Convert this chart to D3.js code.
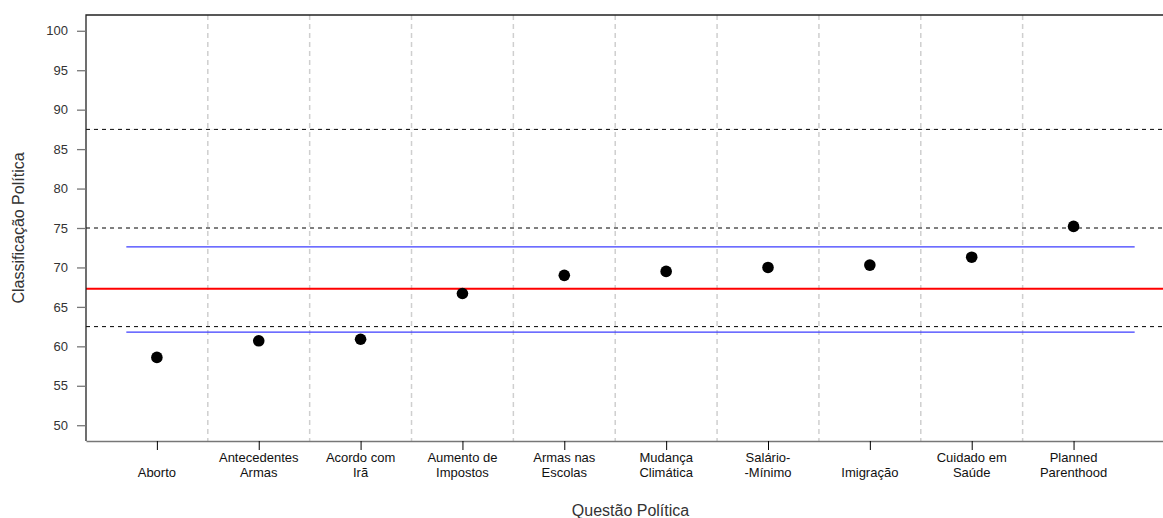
<!DOCTYPE html>
<html>
<head>
<meta charset="utf-8">
<script src="https://cdn.jsdelivr.net/npm/d3@7"></script>
<style>
  body { margin: 0; background: #fff; }
  svg { display: block; font-family: "Liberation Sans", Arial, sans-serif; }
</style>
</head>
<body>
<div id="chart"></div>
<script>
// questions (two-line labels, first line may be empty)
const questions = [
  ["", "Aborto"],
  ["Antecedentes", "Armas"],
  ["Acordo com", "Irã"],
  ["Aumento de", "Impostos"],
  ["Armas nas", "Escolas"],
  ["Mudança", "Climática"],
  ["Salário-", "-Mínimo"],
  ["", "Imigração"],
  ["Cuidado em", "Saúde"],
  ["Planned", "Parenthood"]
];
const ratings = [58.6, 60.7, 60.9, 66.7, 69.0, 69.5, 70.0, 70.3, 71.3, 75.2];
const meanLine = 67.3;
const blueLines = [72.6, 61.8];
const blueSpan = [0.7, 10.6];
const dashedLines = [87.5, 75, 62.5];
const separators = [1.5, 2.5, 3.5, 4.5, 5.5, 6.5, 7.5, 8.5, 9.5];
const yTicks = [50, 55, 60, 65, 70, 75, 80, 85, 90, 95, 100];

const W = 1163, H = 518;
const pLeft = 86, pRight = 1175, pTop = 15, pBottom = 441;

const svg = d3.select("#chart").append("svg")
  .attr("width", W).attr("height", H);

const x = d3.scaleLinear().domain([0.304, 10.996]).range([pLeft, pRight]);
const y = d3.scaleLinear().domain([48, 102]).range([pBottom, pTop]);

// grey separators
svg.append("g").selectAll("line").data(separators).join("line")
  .attr("x1", d => x(d)).attr("x2", d => x(d))
  .attr("y1", pTop).attr("y2", pBottom)
  .attr("stroke", "#cfcfcf").attr("stroke-width", 1.5)
  .attr("stroke-dasharray", "5,4");

// black dashed reference lines
svg.append("g").selectAll("line").data(dashedLines).join("line")
  .attr("x1", pLeft).attr("x2", pRight)
  .attr("y1", d => y(d)).attr("y2", d => y(d))
  .attr("stroke", "#000").attr("stroke-width", 1)
  .attr("stroke-dasharray", "4,4");

// blue segments
svg.append("g").selectAll("line").data(blueLines).join("line")
  .attr("x1", x(blueSpan[0])).attr("x2", x(blueSpan[1]))
  .attr("y1", d => y(d)).attr("y2", d => y(d))
  .attr("stroke", "#3d3dff").attr("stroke-width", 1.2);

// red mean
svg.append("line")
  .attr("x1", pLeft).attr("x2", pRight)
  .attr("y1", y(meanLine)).attr("y2", y(meanLine))
  .attr("stroke", "#ff0000").attr("stroke-width", 2);

// points
svg.append("g").selectAll("circle").data(ratings).join("circle")
  .attr("cx", (d, i) => x(i + 1)).attr("cy", d => y(d))
  .attr("r", 5.8).attr("fill", "#000");

// frame
svg.append("path")
  .attr("d", `M${pRight},${pTop}H${pLeft}V${pBottom}`)
  .attr("fill", "none").attr("stroke", "#222").attr("stroke-width", 1.3);

// y axis
const axisY = d3.axisLeft(y).tickValues(yTicks).tickSize(9).tickPadding(9);
const gy = svg.append("g").attr("transform", `translate(${pLeft},0)`).call(axisY);
gy.select(".domain").remove();
gy.selectAll(".tick line").attr("stroke", "#777").attr("stroke-width", 1.3);
gy.selectAll(".tick text").attr("font-size", 13).attr("fill", "#333")
  .attr("font-family", "Liberation Sans, Arial, sans-serif");

// x axis
const axisX = d3.axisBottom(x).tickValues(d3.range(1, 11))
  .tickSize(9).tickSizeOuter(0).tickFormat("");
const gx = svg.append("g").attr("transform", `translate(0,${pBottom})`).call(axisX);
gx.select(".domain").attr("stroke", "#777").attr("stroke-width", 1.5);
gx.selectAll(".tick line").attr("stroke", "#000");

const labels = svg.append("g").selectAll("text").data(questions).join("text")
  .attr("x", (d, i) => x(i + 1))
  .attr("text-anchor", "middle").attr("font-size", 13).attr("fill", "#111");
labels.append("tspan").attr("x", (d, i) => x(i + 1)).attr("y", 462).text(d => d[0]);
labels.append("tspan").attr("x", (d, i) => x(i + 1)).attr("y", 477).text(d => d[1]);

// axis titles
svg.append("text")
  .attr("x", (pLeft + pRight) / 2).attr("y", 516)
  .attr("text-anchor", "middle").attr("font-size", 16).attr("fill", "#333")
  .text("Questão Política");

svg.append("text")
  .attr("transform", `translate(24,${(pTop + pBottom) / 2}) rotate(-90)`)
  .attr("text-anchor", "middle").attr("font-size", 16).attr("fill", "#333")
  .text("Classificação Política");
</script>
</body>
</html>
